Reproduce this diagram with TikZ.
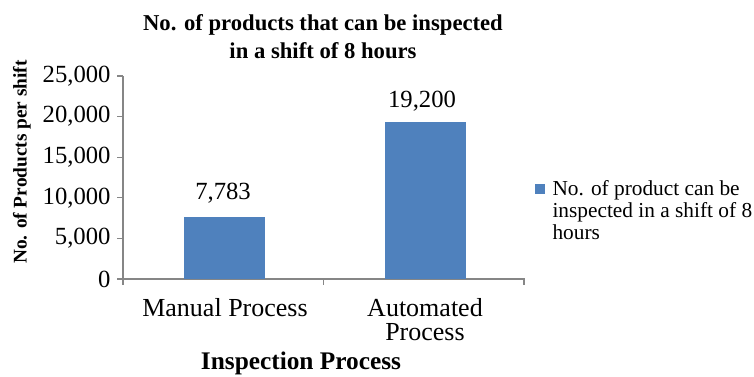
\documentclass[tikz,border=0pt]{standalone}
\usepackage{fontspec}
\setmainfont{Liberation Serif}
\definecolor{barblue}{RGB}{79,129,189}
\definecolor{axisgray}{RGB}{134,134,134}
\tikzset{every picture/.style={line width=0.75pt},
  axisline/.style={draw=axisgray, line width=1pt},
  barbox/.style={fill=barblue, draw=none},
  ticklabel/.style={anchor=east, inner sep=0.75pt, font=\fontsize{18.5}{20}\selectfont},
  valuelabel/.style={inner sep=0.75pt, font=\fontsize{18.5}{21}\selectfont},
  catlabel/.style={inner sep=0.75pt, align=center, font=\fontsize{19.5}{18}\selectfont},
  titlelabel/.style={inner sep=0.75pt, align=center, font=\fontsize{17}{21}\selectfont\bfseries}}

\begin{document}
\begin{tikzpicture}[x=0.75pt,y=0.75pt,yscale=-1,xscale=1]
\useasboundingbox (0,0) rectangle (754,376);

% Title
\node [titlelabel] (title) at (323,37) {No. of products that can be inspected\\in a shift of 8 hours};

% Axes
\coordinate (origin) at (123,279);
\coordinate (ytop) at (123,76);
\coordinate (xend) at (524,279);
\draw [axisline] (ytop) -- (123,285);
\draw [axisline] (origin) -- (xend) -- (524,285);
\draw [axisline] (323.5,279) -- (323.5,285);

% Value ticks
\foreach \v/\txt in {0/0,1/{5,000},2/{10,000},3/{15,000},4/{20,000},5/{25,000}} {
  \draw [axisline] (117,279-40.6*\v) -- (123,279-40.6*\v);
  \node [ticklabel] (tick\v) at (112,279-40.6*\v) {\txt};
}

% Bars
\draw [barbox] (184,279) rectangle (265,216.7);
\draw [barbox] (385,279) rectangle (466,122);

% Values
\node [valuelabel] (valmanual) at (223,193) {7,783};
\node [valuelabel] (valauto) at (422,101) {19,200};

% Categories
\node [catlabel] (catmanual) at (225,308) {Manual Process};
\node [catlabel] (catauto) at (425,320) {Automated\\Process};

% Axis titles
\node [inner sep=0.75pt, font=\fontsize{19}{22}\selectfont\bfseries] (xtitle) at (301,363) {Inspection Process};
\node [inner sep=0.75pt, rotate=90, font=\fontsize{14.5}{17}\selectfont\bfseries] (ytitle) at (22,162) {No. of Products per shift};

% Legend
\draw [barbox] (535,184) rectangle (545,194);
\node [anchor=west, inner sep=0.75pt, align=left, font=\fontsize{16}{16.5}\selectfont] (legend) at (551,210) {No. of product can be\\inspected in a shift of 8\\hours};

\end{tikzpicture}
\end{document}
